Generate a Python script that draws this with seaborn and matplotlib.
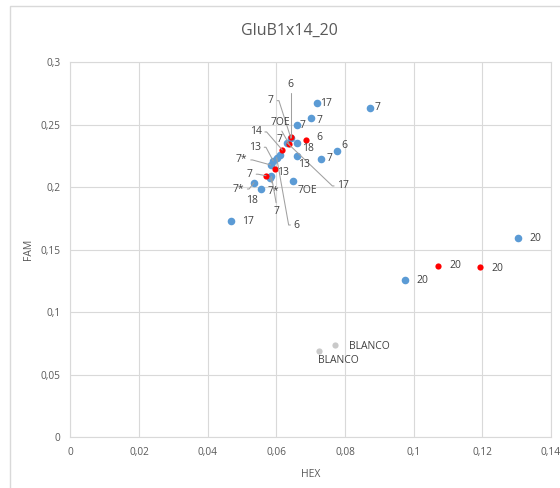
import matplotlib
matplotlib.use("Agg")
import matplotlib.pyplot as plt
import pandas as pd
import seaborn as sns
from matplotlib.patches import Rectangle

# ---------------- data ----------------
title = "GluB1x14_20"
x_label = "HEX"
y_label = "FAM"

blue_hex = [0.07175, 0.08727, 0.0700, 0.06593, 0.07758, 0.07292, 0.0661, 0.0632,
            0.06427, 0.06593, 0.0650, 0.06107, 0.0601, 0.05911, 0.05836, 0.05815,
            0.05859, 0.05349, 0.05568, 0.04671, 0.1305, 0.09738]
blue_fam = [0.2671, 0.2631, 0.2551, 0.2500, 0.2292, 0.2226, 0.2351, 0.2354,
            0.2390, 0.2252, 0.2047, 0.2258, 0.2236, 0.2210, 0.2178, 0.2076,
            0.2086, 0.2036, 0.1982, 0.1727, 0.1591, 0.1255]
blue_labels = ["17", "7", "7", "7", "6", "7", "18", "17",
               "7", "13", "7OE", "7", "6", "13", "7*", "7*",
               "7", "7*", "18", "17", "20", "20"]

red_hex = [0.06418, 0.06864, 0.06377, 0.06174, 0.05961, 0.05699, 0.1072, 0.1194]
red_fam = [0.2399, 0.2378, 0.2343, 0.2298, 0.2143, 0.2092, 0.1372, 0.1362]
red_labels = ["6", "6", "7OE", "14", "13", "7", "20", "20"]

blanco_hex = [0.07708, 0.07242]
blanco_fam = [0.0735, 0.0692]
blanco_labels = ["BLANCO", "BLANCO"]

x_ticks = [0, 0.02, 0.04, 0.06, 0.08, 0.10, 0.12, 0.14]
x_tick_labels = ["0", "0,02", "0,04", "0,06", "0,08", "0,1", "0,12", "0,14"]
y_ticks = [0, 0.05, 0.10, 0.15, 0.20, 0.25, 0.30]
y_tick_labels = ["0", "0,05", "0,1", "0,15", "0,2", "0,25", "0,3"]

# ---------------- layout (label offsets in pixels: dx right, dy down; leader side) ----------------
blue_label_layout = [(9.5, 0, None), (7.3, -1, None), (9, 2.4, None), (5.6, 1, None),
                     (7.6, -4.7, None), (9.3, 0, None), (11, 5.4, None), (56, 43, "L"),
                     (-20, -37.8, "R"), (7.6, 8.6, None), (13.8, 9.4, None), (0, -15, None),
                     (20, 67.3, "L"), (-18.3, -13.7, "R"), (-29, -5, "R"), (3.3, 14, "T"),
                     (5.2, 35, "T"), (-15.7, 6.3, "R"), (-9.3, 11.5, None), (17.6, 0, None),
                     (17, 0, None), (17.5, 0, None)]
red_label_layout = [(0, -53.3, "B"), (13, -2.7, None), (-9.3, -22, "B"), (-26.6, -18, "R"),
                    (8.3, 3.2, None), (-16, -1.5, "R"), (17.2, 0, None), (17.4, 1.3, None)]
blanco_label_layout = [(34.3, 0.7, None), (19.3, 10, None)]

BLUE = "#5B9BD5"
RED = "#FF0000"
GREY_PT = "#C9C9C9"
GRID = "#D9D9D9"
TXT = "#595959"
LBL = "#404040"
LEADER = "#A0A0A0"

sns.set_theme(style="whitegrid")
plt.rcParams["font.family"] = ["Open Sans", "DejaVu Sans"]

fig = plt.figure(figsize=(5.6, 4.88), dpi=100)
ax = fig.add_axes([70.3 / 560, 1 - 437.2 / 488, (551 - 70.3) / 560, (437.2 - 62.2) / 488])
ax.set_facecolor("white")

blue_df = pd.DataFrame({"HEX": blue_hex, "FAM": blue_fam})
red_df = pd.DataFrame({"HEX": red_hex, "FAM": red_fam})
blanco_df = pd.DataFrame({"HEX": blanco_hex, "FAM": blanco_fam})

sns.scatterplot(data=blue_df, x="HEX", y="FAM", color=BLUE, s=30, linewidth=0, ax=ax, zorder=3)
sns.scatterplot(data=red_df, x="HEX", y="FAM", color=RED, s=20, linewidth=0, ax=ax, zorder=4)
sns.scatterplot(data=blanco_df, x="HEX", y="FAM", color=GREY_PT, s=20, linewidth=0, ax=ax, zorder=3)

side = {"L": ((0, 0.5), 180), "R": ((1, 0.5), 0), "T": ((0.5, 1), 90), "B": ((0.5, 0), -90)}


def add_labels(xs, ys, texts, layout):
    for x, y, t, (dx, dy, lead) in zip(xs, ys, texts, layout):
        kw = {}
        if lead:
            relpos, ang = side[lead]
            arm = 5 if lead in ("L", "R") else 0
            kw["arrowprops"] = dict(arrowstyle="-", color=LEADER, lw=0.75, shrinkA=0, shrinkB=0,
                                    relpos=relpos,
                                    connectionstyle=f"arc,angleA={ang},angleB=0,armA={arm},armB=0,rad=0")
        ax.annotate(t, (x, y), xytext=(dx, -dy), textcoords="offset pixels",
                    ha="center", va="center", fontsize=7.5, color=LBL, zorder=5, **kw)


add_labels(blue_hex, blue_fam, blue_labels, blue_label_layout)
add_labels(red_hex, red_fam, red_labels, red_label_layout)
add_labels(blanco_hex, blanco_fam, blanco_labels, blanco_label_layout)

ax.set_xlim(0, 0.14)
ax.set_ylim(0, 0.3)
ax.set_xticks(x_ticks)
ax.set_xticklabels(x_tick_labels)
ax.set_yticks(y_ticks)
ax.set_yticklabels(y_tick_labels)
ax.tick_params(axis="both", length=0, labelsize=7.3, labelcolor=TXT)
ax.tick_params(axis="x", pad=7)
ax.tick_params(axis="y", pad=7)
ax.grid(True, color=GRID, linewidth=0.8)
for sp in ax.spines.values():
    sp.set_color(GRID)
    sp.set_linewidth(0.8)
ax.set_xlabel(x_label, fontsize=7.5, color=TXT, labelpad=8)
ax.set_ylabel(y_label, fontsize=7.5, color=TXT, labelpad=5)

fig.text(289.5 / 560, 1 - 31 / 488, title, ha="center", va="center", fontsize=11.5, color=TXT)

fig.patches.append(Rectangle((10 / 560, -0.1), 2.0, 0.1 + (488 - 6.5) / 488, transform=fig.transFigure,
                             fill=False, edgecolor=GRID, linewidth=1.0, zorder=0))

fig.savefig("out.png", dpi=100, facecolor="white")
